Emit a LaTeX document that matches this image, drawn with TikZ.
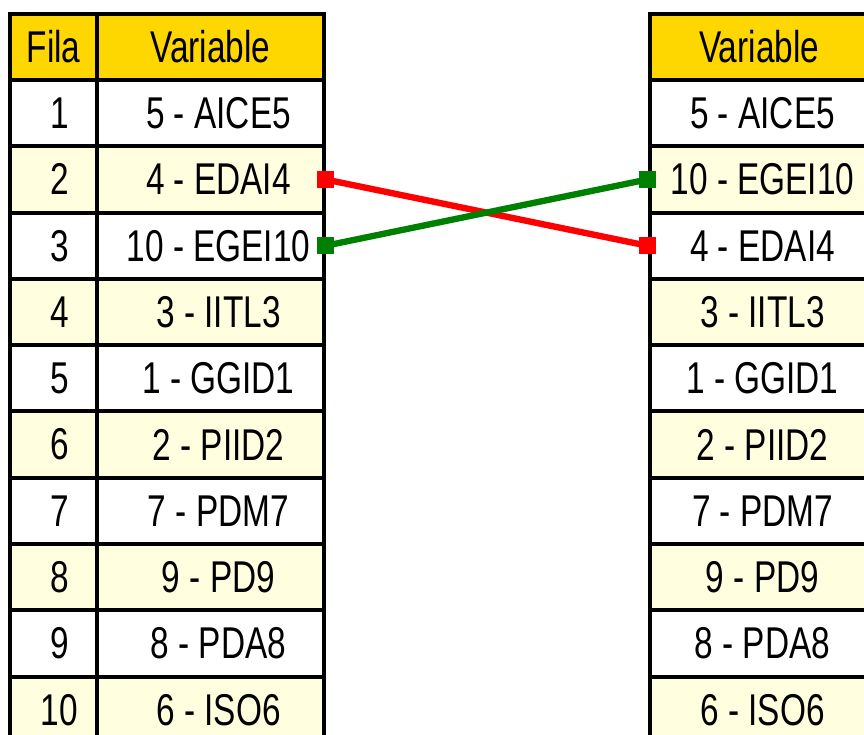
\documentclass[tikz,border=0pt]{standalone}
\usepackage{fontspec}
\setmainfont[FakeStretch=0.75]{Liberation Sans}
\definecolor{hdrgold}{HTML}{FFD700}
\definecolor{paleyellow}{HTML}{FFFFE0}
\definecolor{lnkgreen}{HTML}{008000}
\begin{document}
\begin{tikzpicture}[x=0.03cm,y=-0.03cm,
  cell/.style={draw,line width=0.12cm,minimum height=1.99cm,inner sep=0pt,font=\fontsize{38}{40}\selectfont},
  filacell/.style={cell,minimum width=2.61cm},
  varcell/.style={cell,minimum width=6.78cm},
  lnk/.style={line width=0.19cm},
  endbox/.style={rectangle,minimum size=0.51cm,inner sep=0pt}]
\clip (0,0) rectangle (864,735);
\fill[white] (0,0) rectangle (864,735);
% headers
\node[filacell,fill=hdrgold] (lfh) at (53.5,47) {Fila};
\node[varcell,fill=hdrgold] (lvh) at (210.5,47) {Variable};
\node[varcell,fill=hdrgold] (rvh) at (762.5,47) {\hspace*{-0.2cm}Variable};
% left table
\foreach \i/\v [evaluate=\i as \y using 80+66.3*(\i-0.5),
                evaluate=\i as \c using {int(mod(\i,2))}] in
  {1/5 - AICE5,2/4 - EDAI4,3/10 - EGEI10,4/3 - IITL3,5/1 - GGID1,
   6/2 - PIID2,7/7 - PDM7,8/9 - PD9,9/8 - PDA8,10/6 - ISO6} {
  \ifnum\c=0 \def\bg{paleyellow}\else \def\bg{white}\fi
  \node[filacell,fill=\bg] (lf\i) at (53.5,\y) {\hspace*{0.36cm}\i};
  \node[varcell,fill=\bg] (lv\i) at (210.5,\y) {\hspace*{0.48cm}\v};
}
% right table
\foreach \i/\v [evaluate=\i as \y using 80+66.3*(\i-0.5),
                evaluate=\i as \c using {int(mod(\i,2))}] in
  {1/5 - AICE5,2/10 - EGEI10,3/4 - EDAI4,4/3 - IITL3,5/1 - GGID1,
   6/2 - PIID2,7/7 - PDM7,8/9 - PD9,9/8 - PDA8,10/6 - ISO6} {
  \ifnum\c=0 \def\bg{paleyellow}\else \def\bg{white}\fi
  \node[varcell,fill=\bg] (rv\i) at (762.5,\y) {\v};
}
% links
\node[endbox,fill=red] (ra) at (lv2.east) {};
\node[endbox,fill=red] (rb) at (rv3.west) {};
\node[endbox,fill=lnkgreen] (ga) at (lv3.east) {};
\node[endbox,fill=lnkgreen] (gb) at (rv2.west) {};
\draw[lnk,red] (ra.center) -- (rb.center);
\draw[lnk,lnkgreen] (ga.center) -- (gb.center);
\end{tikzpicture}
\end{document}
